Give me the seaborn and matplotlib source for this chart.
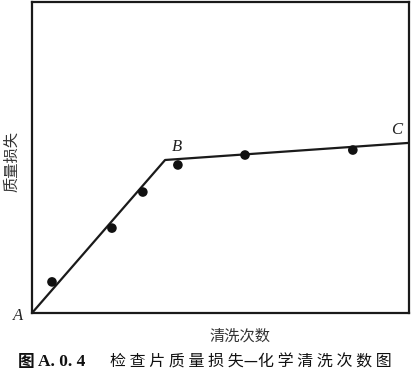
import matplotlib
matplotlib.use("Agg")
import matplotlib.pyplot as plt
import seaborn as sns
import pandas as pd

sns.set_theme(style="white")
plt.rcParams['font.family'] = ['Noto Sans CJK SC', 'DejaVu Sans']

# Fitted two-segment trend: A -> B -> C
trend_x = [0.0, 3.53, 10.0]
trend_y = [0.0, 4.92, 5.47]
trend_labels = ["A", "B", "C"]

# Measured mass loss of coupons vs. number of cleanings
meas_x = [0.53, 2.12, 2.94, 3.87, 5.65, 8.51]
meas_y = [1.00, 2.73, 3.89, 4.76, 5.08, 5.24]

x_label = "清洗次数"
y_label = "质量损失"
fig_prefix = "图"
fig_no = "A. 0. 4"
fig_title = "检 查 片 质 量 损 失—化 学 清 洗 次 数 图"

fig = plt.figure(figsize=(4.11, 3.77), dpi=100)
ax = fig.add_axes([32/411, 64/377, 377/411, 311/377])

trend = pd.DataFrame({"x": trend_x, "y": trend_y})
meas = pd.DataFrame({"x": meas_x, "y": meas_y})

sns.lineplot(data=trend, x="x", y="y", ax=ax, color="#1a1a1a", linewidth=1.6,
             sort=False, estimator=None)
sns.scatterplot(data=meas, x="x", y="y", ax=ax, color="#111111", s=48,
                edgecolor="none", zorder=3)

ax.set_xlim(0, 10)
ax.set_ylim(0, 10)
ax.set_xticks([])
ax.set_yticks([])
ax.set_xlabel("")
ax.set_ylabel("")
for sp in ax.spines.values():
    sp.set_visible(True)
    sp.set_color("#1a1a1a")
    sp.set_linewidth(1.6)

serif_it = dict(family="Liberation Serif", style="italic", fontsize=12, color="#222222")
ax.annotate(trend_labels[0], (trend_x[0], trend_y[0]), xytext=(-14, -2),
            textcoords="offset points", ha="left", va="center", annotation_clip=False, **serif_it)
ax.annotate(trend_labels[1], (trend_x[1], trend_y[1]), xytext=(5, 9),
            textcoords="offset points", ha="left", va="center", **serif_it)
ax.annotate(trend_labels[2], (trend_x[2], trend_y[2]), xytext=(-13, 9),
            textcoords="offset points", ha="left", va="center", **serif_it)

fig.text(12/411, 1 - 162/377, y_label, rotation=90, ha="center", va="center",
         fontsize=11, color="#333333")
fig.text(240/411, 1 - 336/377, x_label, ha="center", va="center",
         fontsize=11, color="#333333")

cap_y = 1 - 362/377
fig.text(18/411, cap_y, fig_prefix, ha="left", va="center",
         fontsize=12, fontweight="bold", color="#111111")
fig.text(38/411, cap_y, fig_no, ha="left", va="center",
         fontsize=12.5, fontweight="bold", family="Liberation Serif", color="#111111")
fig.text(251/411, cap_y, fig_title, ha="center", va="center",
         fontsize=11.5, color="#111111")

fig.savefig("out.png", dpi=100, facecolor="white")
